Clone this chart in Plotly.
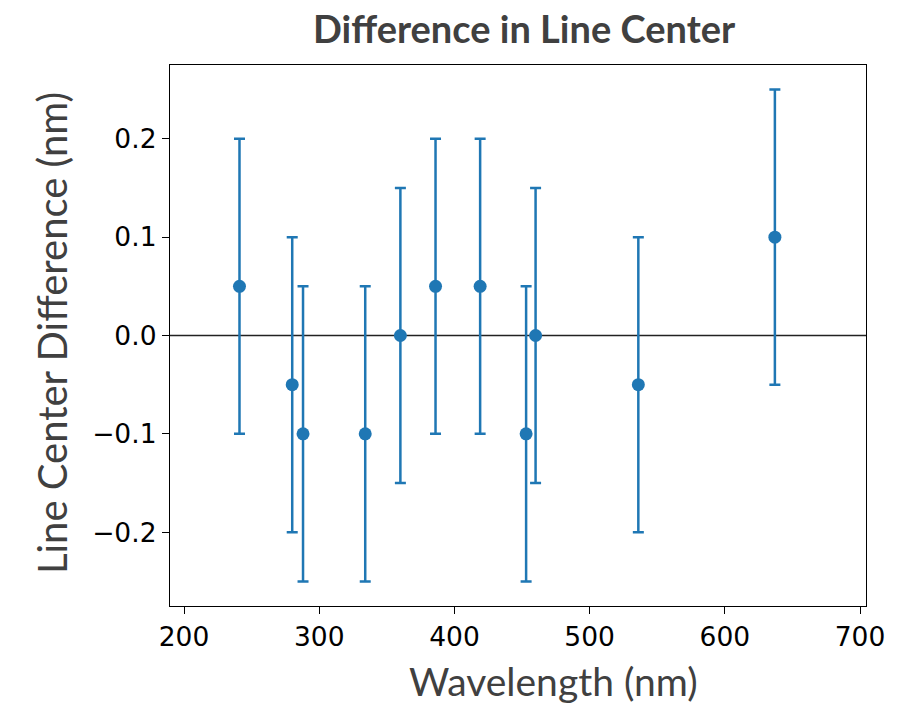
import plotly.graph_objects as go

# Measured line centres: wavelength (nm) and difference from reference (nm)
wavelength_nm = [241, 280, 288, 334, 360, 386, 419, 453, 460, 536, 637]
center_diff_nm = [0.05, -0.05, -0.10, -0.10, 0.00, 0.05, 0.05, -0.10, 0.00, -0.05, 0.10]
uncertainty_nm = [0.15, 0.15, 0.15, 0.15, 0.15, 0.15, 0.15, 0.15, 0.15, 0.15, 0.15]

x_ticks = [200, 300, 400, 500, 600, 700]
y_ticks = [-0.2, -0.1, 0.0, 0.1, 0.2]

BLUE = "#1f77b4"
TITLE_FONT = "Lato"
TICK_FONT = "DejaVu Sans"

fig = go.Figure()

fig.add_trace(go.Scatter(
    x=wavelength_nm,
    y=center_diff_nm,
    mode="markers",
    marker=dict(color=BLUE, size=13),
    error_y=dict(type="data", array=uncertainty_nm, visible=True,
                 color=BLUE, thickness=2.5, width=5.5),
    showlegend=False,
))

# zero reference line
fig.add_hline(y=0, line=dict(color="#222222", width=1.3), layer="below")

axis_common = dict(
    showline=True, linecolor="black", linewidth=1.4, mirror=True,
    ticks="outside", ticklen=7, tickwidth=1.3, tickcolor="black",
    showgrid=False, zeroline=False,
    tickfont=dict(family=TICK_FONT, size=26.5, color="black"),
)

fig.update_xaxes(range=[189.6, 704.4], tickvals=x_ticks, **axis_common)
fig.update_yaxes(range=[-0.275, 0.275], tickvals=y_ticks, tickformat=".1f",
                 **axis_common)

fig.update_layout(
    width=905, height=705,
    margin=dict(l=170, r=39, t=65, b=99),
    plot_bgcolor="white", paper_bgcolor="white",
    annotations=[
        dict(text="<b>Difference in Line Center</b>", xref="paper", yref="paper",
             x=0.510, y=1.0684, xanchor="center", yanchor="middle", showarrow=False,
             font=dict(family=TITLE_FONT, size=38, color="#404040")),
        dict(text="Wavelength (nm)", xref="paper", yref="paper",
             x=0.5503, y=-0.139, xanchor="center", yanchor="middle", showarrow=False,
             font=dict(family=TITLE_FONT, size=39, color="#404040")),
        dict(text="Line Center Difference (nm)", xref="paper", yref="paper",
             x=-0.1695, y=0.5046, xanchor="center", yanchor="middle", showarrow=False,
             textangle=-90,
             font=dict(family=TITLE_FONT, size=40, color="#404040")),
    ],
)

fig.write_html("out.html")
